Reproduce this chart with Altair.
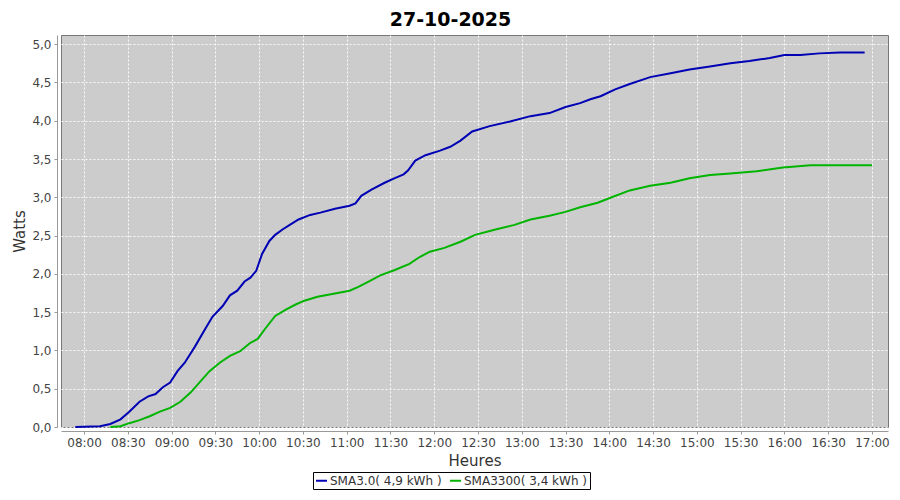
import altair as alt
import pandas as pd

# ---- data ----
blue_label = "SMA3.0( 4,9 kWh )"
green_label = "SMA3300( 3,4 kWh )"

blue_times = ["07:54", "08:11", "08:18", "08:25", "08:31", "08:38", "08:44", "08:49", "08:54", "08:59",
              "09:04", "09:09", "09:16", "09:23", "09:28", "09:35", "09:40", "09:45", "09:50", "09:54",
              "09:58", "10:02", "10:07", "10:11", "10:16", "10:21", "10:27", "10:35", "10:42", "10:52",
              "11:02", "11:06", "11:10", "11:17", "11:26", "11:33", "11:39", "11:42", "11:47", "11:54",
              "12:04", "12:11", "12:18", "12:26", "12:38", "12:52", "13:06", "13:19", "13:30", "13:40",
              "13:47", "13:54", "14:04", "14:14", "14:28", "14:42", "14:55", "15:09", "15:23", "15:36",
              "15:50", "16:00", "16:11", "16:24", "16:38", "16:55"]
blue_values = [0.00, 0.01, 0.04, 0.10, 0.20, 0.33, 0.40, 0.43, 0.52, 0.58,
               0.73, 0.84, 1.05, 1.28, 1.44, 1.58, 1.72, 1.78, 1.90, 1.95,
               2.04, 2.26, 2.43, 2.51, 2.58, 2.64, 2.71, 2.77, 2.80, 2.85,
               2.89, 2.92, 3.02, 3.10, 3.19, 3.25, 3.30, 3.35, 3.48, 3.55,
               3.61, 3.66, 3.74, 3.86, 3.93, 3.99, 4.06, 4.10, 4.18, 4.23,
               4.28, 4.32, 4.41, 4.48, 4.57, 4.62, 4.67, 4.71, 4.75, 4.78,
               4.82, 4.86, 4.86, 4.88, 4.89, 4.89]

green_times = ["08:18", "08:25", "08:31", "08:38", "08:45", "08:52", "08:59", "09:06", "09:13", "09:19",
               "09:26", "09:33", "09:40", "09:47", "09:54", "09:59", "10:04", "10:11", "10:18", "10:25",
               "10:31", "10:40", "10:51", "11:02", "11:08", "11:16", "11:23", "11:33", "11:43", "11:50",
               "11:57", "12:07", "12:18", "12:28", "12:42", "12:55", "13:06", "13:19", "13:30", "13:40",
               "13:52", "14:03", "14:14", "14:28", "14:42", "14:55", "15:09", "15:23", "15:41", "15:59",
               "16:18", "16:38", "17:00"]
green_values = [0.00, 0.01, 0.05, 0.09, 0.14, 0.20, 0.25, 0.33, 0.45, 0.58,
                0.73, 0.84, 0.93, 0.99, 1.10, 1.15, 1.28, 1.45, 1.53, 1.60,
                1.65, 1.70, 1.74, 1.78, 1.83, 1.91, 1.98, 2.05, 2.13, 2.22,
                2.29, 2.34, 2.42, 2.51, 2.58, 2.64, 2.71, 2.76, 2.81, 2.87,
                2.93, 3.01, 3.09, 3.15, 3.19, 3.25, 3.29, 3.31, 3.34, 3.39,
                3.42, 3.42, 3.42]

x_ticks = ["08:00", "08:30", "09:00", "09:30", "10:00", "10:30", "11:00", "11:30", "12:00",
           "12:30", "13:00", "13:30", "14:00", "14:30", "15:00", "15:30", "16:00", "16:30", "17:00"]
y_ticks = [0.0, 0.5, 1.0, 1.5, 2.0, 2.5, 3.0, 3.5, 4.0, 4.5, 5.0]


def to_min(t):
    h, m = t.split(":")
    return int(h) * 60 + int(m)


df = pd.concat([
    pd.DataFrame({"t": [to_min(t) for t in blue_times], "v": blue_values, "s": blue_label}),
    pd.DataFrame({"t": [to_min(t) for t in green_times], "v": green_values, "s": green_label}),
])

FONT = "DejaVu Sans"

chart = alt.Chart(df).mark_line(strokeWidth=2, interpolate="linear").encode(
    x=alt.X("t:Q",
            scale=alt.Scale(domain=[464.2, 1031], nice=False, zero=False),
            axis=alt.Axis(values=[to_min(t) for t in x_ticks],
                          labelExpr="pad(floor(datum.value/60),2,'0','left') + ':' + pad(datum.value%60,2,'0','left')",
                          title="Heures", offset=4, titlePadding=5)),
    y=alt.Y("v:Q",
            scale=alt.Scale(domain=[0, 5.12], nice=False),
            axis=alt.Axis(values=y_ticks,
                          labelExpr="replace(format(datum.value, '.1f'), '.', ',')",
                          title="Watts", offset=4, titlePadding=4)),
    color=alt.Color("s:N",
                    scale=alt.Scale(domain=[blue_label, green_label], range=["#0000B4", "#00B400"]),
                    legend=alt.Legend(title=None, orient="none", legendX=252, legendY=437,
                                      direction="horizontal", strokeColor="black", padding=2,
                                      symbolType="stroke", symbolStrokeWidth=2, symbolSize=120,
                                      labelFont=FONT, labelFontSize=12, labelColor="#333333",
                                      columnPadding=4, labelOffset=2)),
).properties(
    width=827,
    height=392,
    title=alt.TitleParams("27-10-2025", fontSize=19, font=FONT, fontWeight="bold", color="black",
                          anchor="middle", dx=-24, offset=5),
    autosize=alt.AutoSizeParams(type="none"),
    padding={"left": 53, "top": 27, "right": 4, "bottom": 65},
).configure_view(
    fill="#CCCCCC", stroke="#777777", strokeWidth=1
).configure_axis(
    grid=True, gridColor="white", gridDash=[2, 2], gridWidth=1, gridOpacity=0.9,
    domainColor="#999999", tickColor="#999999", tickSize=3,
    labelFont=FONT, labelFontSize=12, labelColor="#444444",
    titleFont=FONT, titleFontSize=15, titleFontWeight="normal", titleColor="#333333",
    labelPadding=3
)

chart.save("out.html", embed_options={"renderer": "svg", "actions": False})
